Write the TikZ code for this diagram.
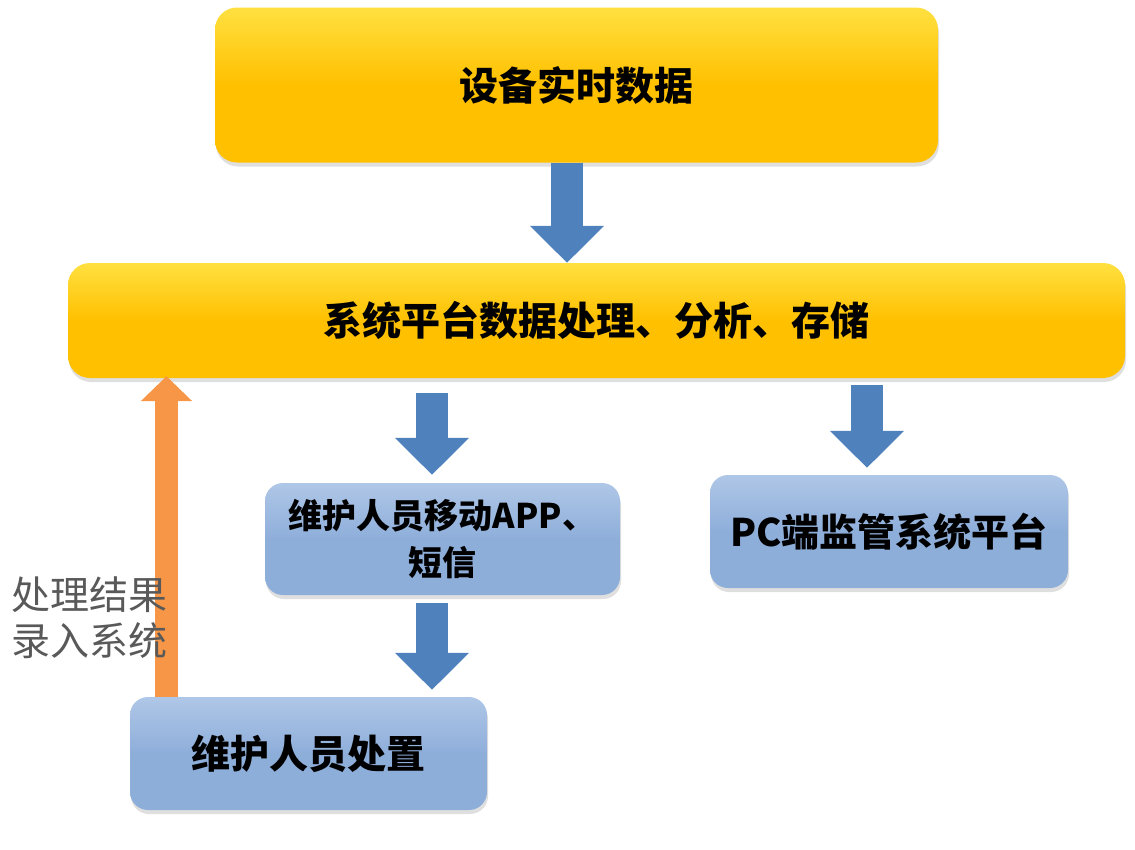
\documentclass[tikz,border=0pt]{standalone}
\usepackage{fontspec}
\newfontfamily\cjk{Noto Sans CJK SC}
\usetikzlibrary{arrows.meta}
\usetikzlibrary{shadows}
\definecolor{boxyellow}{HTML}{FFC000}
\definecolor{boxyellowtop}{HTML}{FFE040}
\definecolor{boxblue}{HTML}{8EAEDA}
\definecolor{boxbluetop}{HTML}{AFC7E7}
\definecolor{arrowblue}{HTML}{4F81BD}
\definecolor{arroworange}{HTML}{F79646}
\definecolor{notegray}{HTML}{595959}
\tikzset{
  ybox/.style={rounded corners=22pt, top color=boxyellowtop, bottom color=boxyellow,
    middle color=boxyellow, drop shadow={opacity=0.25, shadow xshift=1pt, shadow yshift=-4pt},
    font=\cjk\bfseries\fontsize{39}{46}\selectfont},
  bbox/.style={rounded corners=18pt, top color=boxbluetop, bottom color=boxblue,
    middle color=boxblue, drop shadow={opacity=0.25, shadow xshift=1pt, shadow yshift=-4pt},
    font=\cjk\bfseries\fontsize{39}{46}\selectfont, align=center},
  bigarrow/.style={draw=arrowblue, line width=32pt, -{Triangle[width=72pt, length=37pt]}},
  backarrow/.style={draw=arroworange, line width=23pt, -{Triangle[width=50pt, length=25pt]}}
}
\begin{document}
\begin{tikzpicture}[x=1pt, y=-1pt]
    \useasboundingbox (0,0) rectangle (1135,849);
    \node[ybox, minimum width=723pt, minimum height=155pt] (D1) at (576.5, 85) {设备实时数据};
    \node[ybox, minimum width=1057pt, minimum height=115pt] (P1) at (596.5, 320.5) {系统平台数据处理、分析、存储};
    \node[bbox, minimum width=355pt, minimum height=112pt,
      font=\cjk\bfseries\fontsize{34}{47}\selectfont] (M1) at (442.5, 539) {维护人员移动APP、\\短信};
    \node[bbox, minimum width=358pt, minimum height=113pt,
      font=\cjk\bfseries\fontsize{38}{46}\selectfont] (M2) at (889, 531.5) {PC端监管系统平台};
    \node[bbox, minimum width=357pt, minimum height=113pt] (W1) at (308.5, 753.5) {维护人员处置};
    \draw[bigarrow] ([xshift=-9.5pt]D1.south) -- ([xshift=-29.5pt]P1.north);
    \draw[bigarrow, shorten <=15pt, shorten >=8pt] ([xshift=-10.5pt]M1.north |- P1.south) -- ([xshift=-10.5pt]M1.north);
    \draw[bigarrow, shorten <=7pt, shorten >=7pt] ([xshift=-22pt]M2.north |- P1.south) -- ([xshift=-22pt]M2.north);
    \draw[bigarrow, shorten <=8pt, shorten >=7pt] ([xshift=-10.5pt]M1.south) -- ([xshift=-10.5pt]M1.south |- W1.north);
    \draw[backarrow, shorten >=-2pt] ([xshift=-142pt]W1.north) -- ([xshift=-142pt]W1.north |- P1.south);
    % note beside the orange arrow
    \node[anchor=west, align=left, text=notegray, font=\cjk\fontsize{39}{46}\selectfont] (N1)
      at (8, 618) {处理结果\\录入系统};
\end{tikzpicture}
\end{document}
